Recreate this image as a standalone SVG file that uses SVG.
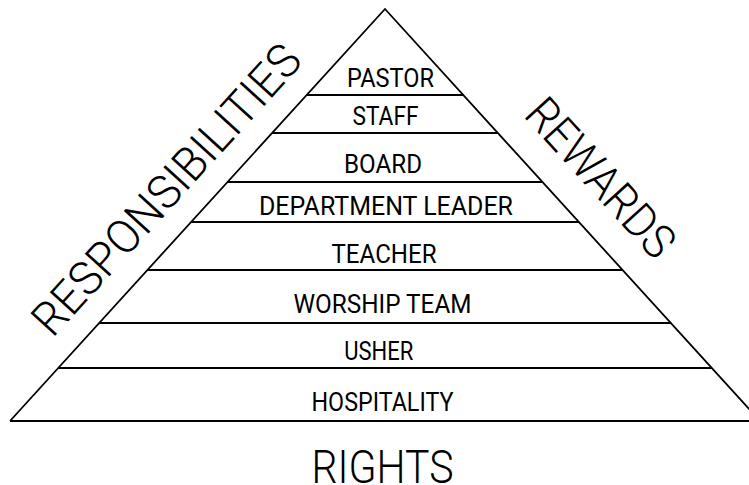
<svg xmlns="http://www.w3.org/2000/svg" width="749" height="485" viewBox="0 0 749 485">
  <style>
    .edge { stroke: #000; stroke-width: 1.8; fill: none; stroke-linecap: butt; }
    .tier { font-family: Roboto, "Liberation Sans", Arial, sans-serif; font-weight: 400; font-size: 25px; fill: #000; text-anchor: middle; }
    .big { font-family: Roboto, "Liberation Sans", Arial, sans-serif; font-weight: 300; font-size: 47px; fill: #000; text-anchor: middle; }
  </style>
  <rect width="749" height="485" fill="#fff"/>

  <!-- pyramid outline and tier dividers -->
  <g id="connectors">
    <polyline class="edge" points="10,421 385,9 760,421"/>
    <line class="edge" x1="306.7" y1="95" x2="463.3" y2="95"/>
    <line class="edge" x1="272.1" y1="133" x2="497.9" y2="133"/>
    <line class="edge" x1="227.5" y1="182" x2="542.5" y2="182"/>
    <line class="edge" x1="191.1" y1="222" x2="578.9" y2="222"/>
    <line class="edge" x1="147.4" y1="270" x2="622.6" y2="270"/>
    <line class="edge" x1="99.2" y1="323" x2="670.8" y2="323"/>
    <line class="edge" x1="58.2" y1="368" x2="711.8" y2="368"/>
    <line class="edge" x1="10" y1="421" x2="760" y2="421"/>
  </g>

  <!-- tiers, top to bottom -->
  <g id="pastor"><text class="tier" x="390.5" y="86.5" textLength="87" lengthAdjust="spacingAndGlyphs">PASTOR</text></g>
  <g id="staff"><text class="tier" x="385.5" y="125" textLength="66" lengthAdjust="spacingAndGlyphs">STAFF</text></g>
  <g id="board"><text class="tier" x="383" y="172.7" textLength="78" lengthAdjust="spacingAndGlyphs">BOARD</text></g>
  <g id="department-leader"><text class="tier" x="386" y="215" textLength="254" lengthAdjust="spacingAndGlyphs">DEPARTMENT LEADER</text></g>
  <g id="teacher"><text class="tier" x="384" y="263.3" textLength="105" lengthAdjust="spacingAndGlyphs">TEACHER</text></g>
  <g id="worship-team"><text class="tier" x="382.5" y="313.3" textLength="178" lengthAdjust="spacingAndGlyphs">WORSHIP TEAM</text></g>
  <g id="usher"><text class="tier" x="378.7" y="360" textLength="69" lengthAdjust="spacingAndGlyphs">USHER</text></g>
  <g id="hospitality"><text class="tier" x="382.5" y="411" textLength="142" lengthAdjust="spacingAndGlyphs">HOSPITALITY</text></g>

  <!-- side and base captions -->
  <g id="responsibilities">
    <text class="big" transform="translate(178.4,200.5) rotate(-47.7)" x="0" y="0" textLength="374" lengthAdjust="spacingAndGlyphs">RESPONSIBILITIES</text>
  </g>
  <g id="rewards">
    <text class="big" transform="translate(588.7,188.7) rotate(47.7)" x="0" y="0" textLength="197" lengthAdjust="spacingAndGlyphs">REWARDS</text>
  </g>
  <g id="rights">
    <text class="big" x="382.5" y="482.5" textLength="142" lengthAdjust="spacingAndGlyphs">RIGHTS</text>
  </g>
</svg>
